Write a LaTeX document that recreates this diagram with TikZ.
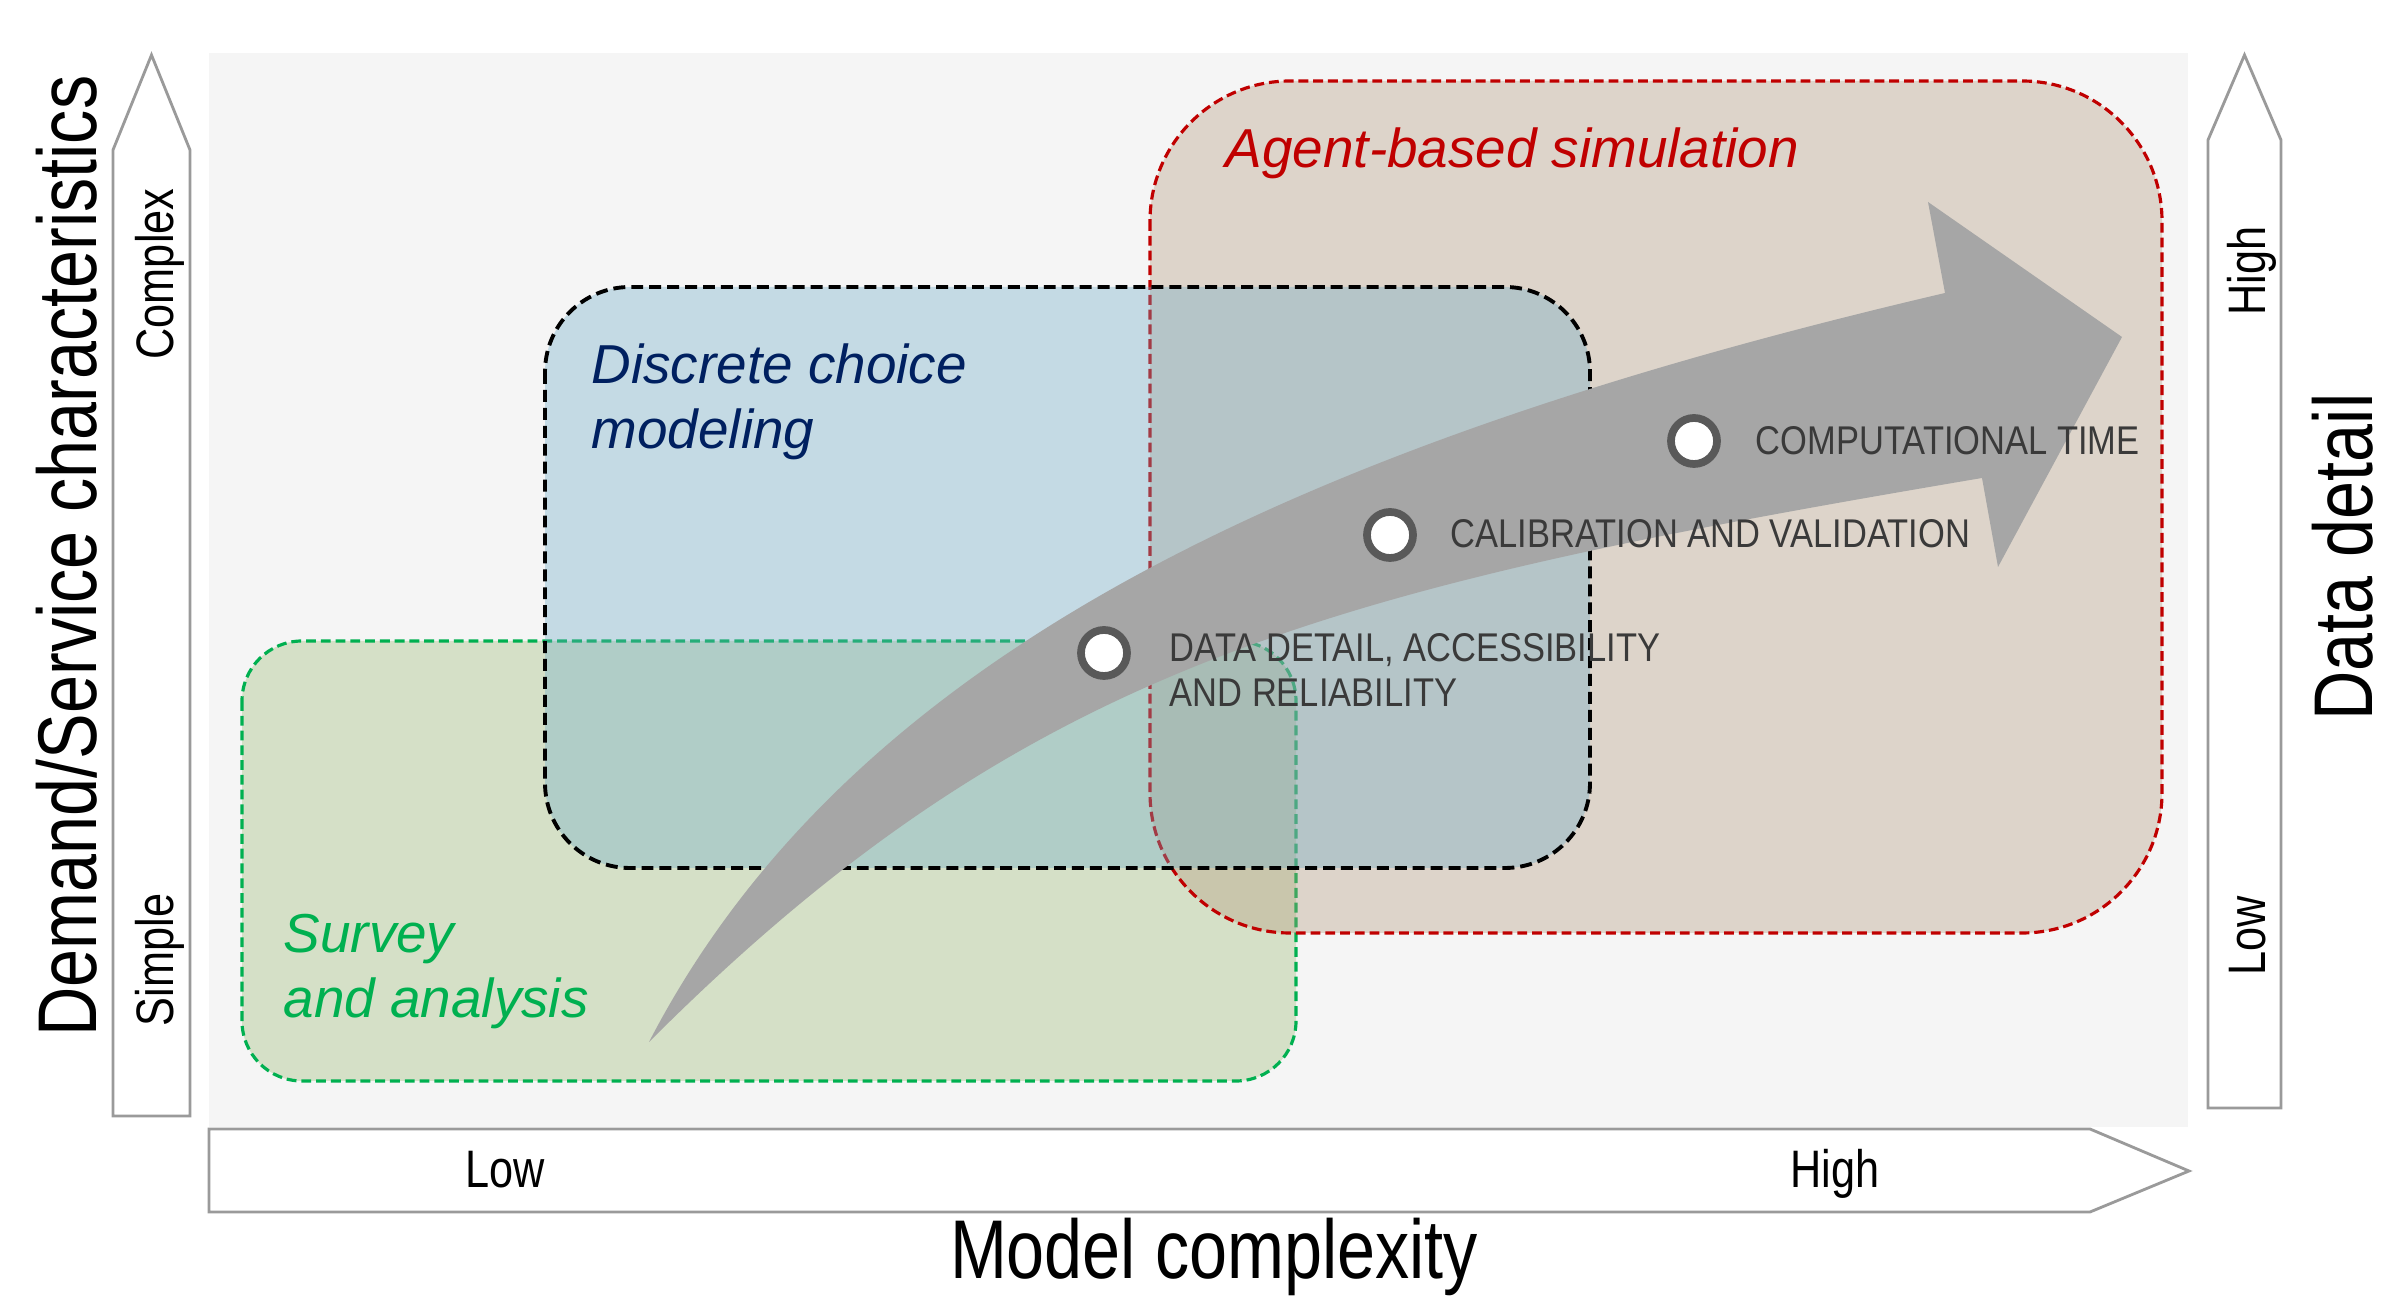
\documentclass[tikz,border=0pt]{standalone}
\usepackage{fontspec}
\setmainfont{Liberation Sans}
\newfontfamily\narrowfont[FakeStretch=0.82]{Liberation Sans}
\newfontfamily\stepfont[FakeStretch=0.86]{Liberation Sans}
\usetikzlibrary{positioning}

\definecolor{bggrey}{HTML}{F5F5F5}
\definecolor{axisgrey}{HTML}{9A9A9A}
\definecolor{surveygreen}{HTML}{00B050}
\definecolor{surveyfill}{HTML}{9CB972}
\definecolor{choiceblue}{HTML}{002060}
\definecolor{choicefill}{HTML}{6BAAC7}
\definecolor{agentred}{HTML}{C00000}
\definecolor{agentfill}{HTML}{B3977A}
\definecolor{arrowgrey}{HTML}{A6A6A6}
\definecolor{ringgrey}{HTML}{595959}
\definecolor{textgrey}{HTML}{3A3A3A}

\begin{document}
\begin{tikzpicture}[x=0.01cm,y=-0.01cm,
  axisarrow/.style={draw=axisgrey,line width=0.8pt,fill=white},
  zone/.style={rounded corners=#1,line width=0.9pt,dash pattern=on 2.8pt off 1.4pt,fill opacity=0.35},
  zonelabel/.style={font=\fontsize{15.6}{18.5}\selectfont\itshape,align=left,inner sep=0pt},
  axislabel/.style={font=\narrowfont\fontsize{15}{18}\selectfont,inner sep=0pt},
  axistitle/.style={font=\narrowfont\fontsize{23.7}{28}\selectfont,inner sep=0pt},
  milestone/.style={circle,draw=ringgrey,fill=white,line width=2.2pt,minimum size=0.46cm,inner sep=0pt},
  steplabel/.style={font=\stepfont\fontsize{11.4}{12.7}\selectfont,text=textgrey,align=left,inner sep=0pt}]
\useasboundingbox[fill=white] (0,0) rectangle (2387,1298);
% Background:
\fill[bggrey] (209,53) rectangle (2188,1127);
% Axes:
\draw[axisarrow] (113,1116) -- (113,150) -- (151.5,55) -- (190,150) -- (190,1116) -- cycle;
\draw[axisarrow] (2208,1108) -- (2208,140) -- (2244.5,55) -- (2281,140) -- (2281,1108) -- cycle;
\draw[axisarrow] (209,1129) -- (2090,1129) -- (2189,1171) -- (2090,1212) -- (209,1212) -- cycle;
\node (demand) [axistitle,rotate=90,anchor=base] at (97,556) {Demand/Service characteristics};
\node (complex) [axislabel,rotate=90,anchor=base] at (173,274) {Complex};
\node (simple) [axislabel,rotate=90,anchor=base] at (173,960) {Simple};
\node (datadetail) [axistitle,rotate=90,anchor=base] at (2372,557) {Data detail};
\node (highdata) [axislabel,rotate=90,anchor=base] at (2265,271) {High};
\node (lowdata) [axislabel,rotate=90,anchor=base] at (2265,936) {Low};
\node (complexity) [axistitle,anchor=base] at (1214,1278) {Model complexity};
\node (lowmodel) [axislabel,anchor=base] at (505,1188) {Low};
\node (highmodel) [axislabel,anchor=base] at (1835,1188) {High};
% Modelling approaches:
\draw[zone=0.6cm,draw=surveygreen,fill=surveyfill] (242,641) rectangle (1296,1081);
\draw[zone=1.4cm,draw=agentred,fill=agentfill] (1150,81) rectangle (2162,933);
\draw[zone=0.85cm,draw=black,fill=choicefill,line width=1.1pt,dash pattern=on 3.4pt off 1.7pt] (545,287) rectangle (1590,868);
\node (survey) [zonelabel,text=surveygreen,anchor=north west] at (283,913) {Survey\\and analysis};
\node (choice) [zonelabel,text=choiceblue,anchor=north west] at (591,343) {Discrete choice\\modeling};
\node (agent) [zonelabel,text=agentred,anchor=base west] at (1225,168) {Agent-based simulation};
% Trend arrow:
\fill[arrowgrey] (649,1042) .. controls (849,656) and (1295,445) .. (1945,293)
  -- (1928,202) -- (2122,337) -- (1998,567) -- (1982,478)
  .. controls (1332,588) and (1029,662) .. (649,1042) -- cycle;
\node (m1) [milestone] at (1104,653) {};
\node (m2) [milestone] at (1390,535) {};
\node (m3) [milestone] at (1694,441) {};
\node (data) [steplabel,anchor=north west] at (1169,633) {DATA DETAIL, ACCESSIBILITY\\AND RELIABILITY};
\node (calib) [steplabel,anchor=base west] at (1450,548) {CALIBRATION AND VALIDATION};
\node (comptime) [steplabel,anchor=base west] at (1755,455) {COMPUTATIONAL TIME};
\end{tikzpicture}
\end{document}
